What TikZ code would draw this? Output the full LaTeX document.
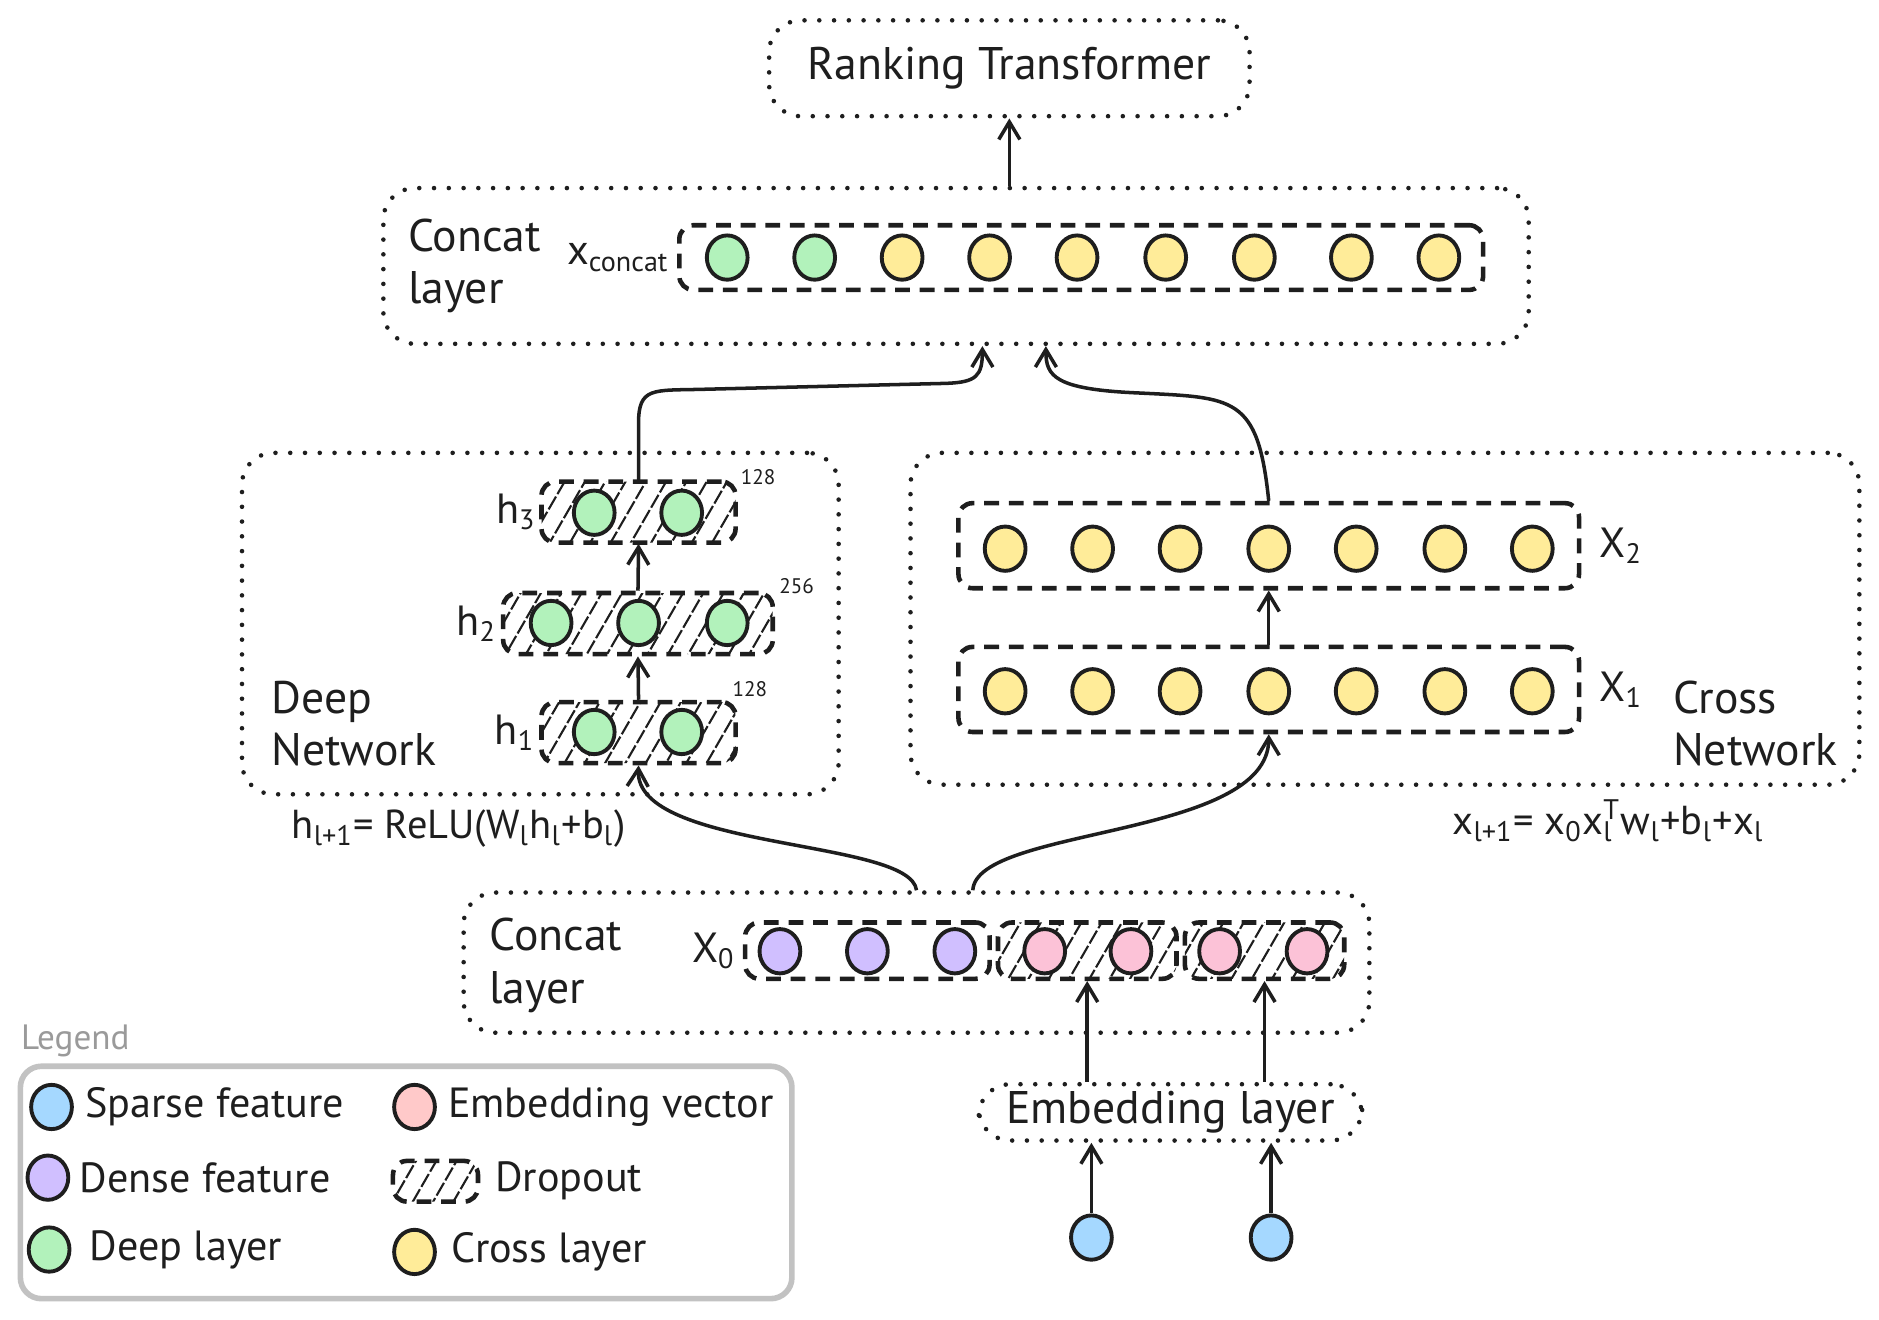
\documentclass[tikz,border=0pt]{standalone}
\usepackage{fontspec}
\setmainfont{PT Sans}
\usetikzlibrary{positioning,fit,calc,shapes.geometric,patterns.meta,arrows.meta}
\definecolor{ink}{HTML}{1E1E1E}
\definecolor{deepc}{HTML}{B2F2BB}
\definecolor{crossc}{HTML}{FFEC99}
\definecolor{densec}{HTML}{D0BFFF}
\definecolor{embc}{HTML}{FCC2D7}
\definecolor{embleg}{HTML}{FFC9C9}
\definecolor{sparsec}{HTML}{A5D8FF}
\definecolor{leggray}{HTML}{C2C2C2}
\definecolor{legtext}{HTML}{9A9A9A}

\begin{document}
\begin{tikzpicture}[x=0.01198cm, y=-0.01198cm,
  dotbox/.style={draw=ink, line width=1.3pt, dash pattern=on 0pt off 4.2pt, line cap=round, rounded corners=9pt, inner sep=0pt},
  dashbox/.style={draw=ink, line width=1.3pt, dash pattern=on 4.2pt off 2.8pt, rounded corners=4pt, inner sep=0pt},
  hatchbox/.style={dashbox, pattern={Lines[angle=60,distance=5pt,line width=0.6pt]}, pattern color=ink},
  unit/.style={ellipse, draw=ink, line width=1.1pt, minimum width=11.6pt, minimum height=12.6pt, inner sep=0pt},
  hand/.style={font=\fontsize{13}{15}\selectfont, text=ink, inner sep=0pt, align=left},
  legtxt/.style={font=\fontsize{12}{14}\selectfont, text=ink, inner sep=0pt},
  lab/.style={font=\fontsize{12}{14}\selectfont, text=ink, inner sep=0pt},
  eq/.style={font=\fontsize{11.5}{14}\selectfont, text=ink, inner sep=0pt},
  dim/.style={font=\fontsize{6}{7}\selectfont, text=ink, inner sep=0pt},
  arr/.style={draw=ink, line width=1pt, -{Straight Barb[length=5pt,width=6pt]}}]
  \useasboundingbox (0,0) rectangle (1568.4,1101);

  \node[dotbox, fit={(642,17) (1043,97)}] (rank) {};
  \node[hand] (ranktxt) at (rank) {Ranking Transformer};

  \node[dotbox, fit={(320,157) (1276,287)}] (cat) {};
  \node[hand, anchor=west] (catlab) at (340,222) {Concat\\layer};
  \node[dashbox, fit={(567,188) (1238,242)}] (catrow) {};
  \node[lab, left=2pt of catrow] (xcat) {x\textsubscript{concat}};
  \foreach \x [count=\i] in {607,680}
    \node[unit, fill=deepc] (v\i) at (\x,215) {};
  \foreach \x [count=\i from 3] in {753,826,899,973,1047,1128,1201}
    \node[unit, fill=crossc] (v\i) at (\x,215) {};

  \node[dotbox, fit={(202,378) (700,663)}] (deep) {};
  \node[hand, anchor=west] (deeplab) at (226,604) {Deep\\Network};
  \node[hatchbox, fit={(452,402) (614,453)}] (h3) {};
  \node[hatchbox, fit={(420,495) (645,546)}] (h2) {};
  \node[hatchbox, fit={(452,586) (614,637)}] (h1) {};
  \foreach \x [count=\i] in {496,569} {
    \node[unit, fill=deepc] (h3n\i) at (\x,428) {};
    \node[unit, fill=deepc] (h1n\i) at (\x,611) {};
  }
  \foreach \x [count=\i] in {460,533,607}
    \node[unit, fill=deepc] (h2n\i) at (\x,520) {};
  \node[lab, left=1pt of h3] (h3lab) {h\textsubscript{3}};
  \node[lab, left=1pt of h2] (h2lab) {h\textsubscript{2}};
  \node[lab, left=1pt of h1] (h1lab) {h\textsubscript{1}};
  \node[dim, anchor=west] (h3dim) at ($(h3.north east)+(3,-3)$) {128};
  \node[dim, anchor=west] (h2dim) at ($(h2.north east)+(3,-4)$) {256};
  \node[dim, anchor=west] (h1dim) at ($(h1.north east)+(-5,-9)$) {128};
  \node[eq, anchor=west] (deepeq) at (243,692) {h\textsubscript{l+1}= ReLU(W\textsubscript{l}h\textsubscript{l}+b\textsubscript{l})};

  \node[dotbox, fit={(760,378) (1552,655)}] (cross) {};
  \node[hand, anchor=west] (crosslab) at (1396,604) {Cross\\Network};
  \node[dashbox, fit={(800,420) (1318,491)}] (x2) {};
  \node[dashbox, fit={(800,540) (1318,611)}] (x1) {};
  \foreach \x [count=\i] in {839,912,985,1059,1132,1206,1279} {
    \node[unit, fill=crossc] (x2n\i) at (\x,458) {};
    \node[unit, fill=crossc] (x1n\i) at (\x,577) {};
  }
  \node[lab, right=5pt of x2] (x2lab) {X\textsubscript{2}};
  \node[lab, right=5pt of x1] (x1lab) {X\textsubscript{1}};
  \node[eq, anchor=west] (crosseq) at (1212,685) {x\textsubscript{l+1}= x\textsubscript{0}x\rlap{\textsubscript{l}}\textsuperscript{T}w\textsubscript{l}+b\textsubscript{l}+x\textsubscript{l}};

  \node[dotbox, fit={(387,745) (1143,862)}] (cat0) {};
  \node[hand, anchor=west] (cat0lab) at (408,806) {Concat\\layer};
  \node[dashbox, fit={(622,770) (826,817)}] (dense) {};
  \node[hatchbox, fit={(833,770) (982,817)}] (emb1) {};
  \node[hatchbox, fit={(989,770) (1122,817)}] (emb2) {};
  \node[lab, left=2pt of dense] (x0lab) {X\textsubscript{0}};
  \foreach \x [count=\i] in {651,724,797}
    \node[unit, fill=densec] (dn\i) at (\x,794) {};
  \foreach \x [count=\i] in {872,944,1018,1091}
    \node[unit, fill=embc] (en\i) at (\x,794) {};

  \node[dotbox, fit={(817,905) (1137,952)}] (embl) {};
  \node[hand] (embltxt) at (embl) {Embedding layer};
  \node[unit, fill=sparsec] (s1) at (911,1033) {};
  \node[unit, fill=sparsec] (s2) at (1061,1033) {};

  \draw[arr] (rank.south |- cat.north) -- (rank.south);
  \draw[arr] (h3.north) -- ++(0,-48) .. controls ++(0,-30) and (545,326) .. (585,325) -- (790,320) .. controls (815,319) and ($(cat.south)+(22,25)$) .. ($(cat.south)+(22,0)$);
  \draw[arr] (x2.north) .. controls (1050,330) and (1030,332) .. (950,328) .. controls (880,325) and ($(cat.south)+(75,25)$) .. ($(cat.south)+(75,0)$);
  \draw[arr] (h1.north) -- (h2.south);
  \draw[arr] (h2.north) -- (h3.south);
  \draw[arr] (x1.north) -- (x2.south);
  \draw[arr] (cat0.north) .. controls (760,700) and (530,710) .. (h1.south);
  \draw[arr] ($(cat0.north)+(47,0)$) .. controls (815,690) and (1059,700) .. (x1.south);
  \draw[arr] (emb1.south |- embl.north) -- (emb1.south);
  \draw[arr] (emb2.south |- embl.north) -- (emb2.south);
  \draw[arr] (s1.north) -- (s1.north |- embl.south);
  \draw[arr] (s2.north) -- (s2.north |- embl.south);

  \node[font=\fontsize{10}{12}\selectfont, text=legtext, inner sep=0pt, anchor=west] (legtitle) at (17,869) {Legend};
  \node[draw=leggray, line width=1.6pt, rounded corners=6pt, inner sep=0pt, fit={(17,890) (661,1084)}] (leg) {};
  \node[unit, fill=sparsec] (lsparse) at (43,924) {};
  \node[unit, fill=embleg] (lemb) at (346,924) {};
  \node[unit, fill=densec] (ldense) at (40,983) {};
  \node[hatchbox, fit={(328,969) (399,1003)}] (ldrop) {};
  \node[unit, fill=deepc] (ldeep) at (41,1043) {};
  \node[unit, fill=crossc] (lcross) at (346,1045) {};
  \node[legtxt, right=3pt of lsparse] (tsparse) {Sparse feature};
  \node[legtxt, right=3pt of lemb] (temb) {Embedding vector};
  \node[legtxt, right=2.5pt of ldense] (tdense) {Dense feature};
  \node[legtxt, right=4pt of ldrop] (tdrop) {Dropout};
  \node[legtxt, right=5pt of ldeep] (tdeep) {Deep layer};
  \node[legtxt, right=4pt of lcross] (tcross) {Cross layer};
\end{tikzpicture}
\end{document}
